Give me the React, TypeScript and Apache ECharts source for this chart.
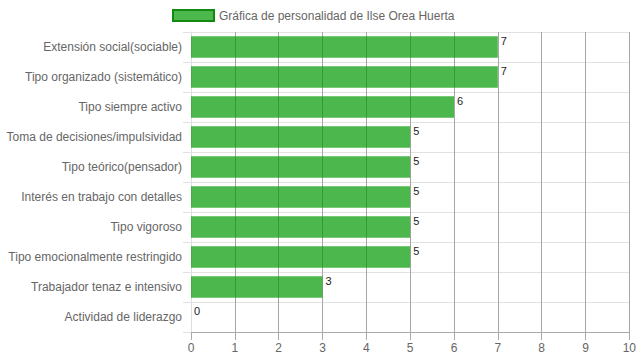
import React, { useEffect, useRef } from "react";
import * as echarts from "echarts";

const categories = [
  "Extensión social(sociable)",
  "Tipo organizado (sistemático)",
  "Tipo siempre activo",
  "Toma de decisiones/impulsividad",
  "Tipo teórico(pensador)",
  "Interés en trabajo con detalles",
  "Tipo vigoroso",
  "Tipo emocionalmente restringido",
  "Trabajador tenaz e intensivo",
  "Actividad de liderazgo",
];
const values = [7, 7, 6, 5, 5, 5, 5, 5, 3, 0];
const seriesName = "Gráfica de personalidad de Ilse Orea Huerta";

export default function App() {
  const ref = useRef<HTMLDivElement>(null);
  useEffect(() => {
    if (!ref.current) return;
    const chart = echarts.init(ref.current, undefined, { renderer: "svg" });
    const font = "'Liberation Sans', Arial, sans-serif";
    chart.setOption({
      animation: false,
      textStyle: { fontFamily: font },
      legend: {
        left: 167,
        top: 4,
        itemWidth: 41,
        itemHeight: 11,
        icon: "rect",
        itemGap: 6,
        textStyle: { color: "#666", fontSize: 12, fontFamily: font },
        data: [{ name: seriesName, itemStyle: { color: "#4db84d", borderColor: "#128a12", borderWidth: 2 } }],
      },
      grid: { left: 191, right: 9, top: 32, bottom: 28, containLabel: false },
      xAxis: {
        type: "value",
        min: 0,
        max: 10,
        interval: 1,
        axisLine: { show: true, lineStyle: { color: "#aaa" } },
        axisTick: { show: true, length: 8, lineStyle: { color: "#aaa" } },
        axisLabel: { color: "#666", fontSize: 12, margin: 10, fontFamily: font },
        splitLine: { show: true, lineStyle: { color: "#a6a6a6" } },
      },
      yAxis: {
        type: "category",
        data: categories,
        inverse: true,
        axisLine: { show: true, lineStyle: { color: "#ddd" } },
        axisTick: { show: true, length: 8, lineStyle: { color: "#e2e2e2" } },
        axisLabel: { color: "#666", fontSize: 12, margin: 9, fontFamily: font },
        splitLine: { show: true, lineStyle: { color: "#e2e2e2" } },
      },
      series: [
        {
          name: seriesName,
          type: "bar",
          data: values,
          barWidth: "72%",
          itemStyle: { color: "rgba(0,153,0,0.7)" },
          label: {
            show: true,
            position: ["100%", 0],
            offset: [3, -1],
            align: "left",
            verticalAlign: "top",
            color: "#222",
            fontSize: 11,
            fontFamily: font,
          },
        },
      ],
    });
    return () => chart.dispose();
  }, []);
  return (
    <div
      ref={ref}
      style={{ position: "absolute", left: 0, top: 0, width: 639, height: 360 }}
    />
  );
}
